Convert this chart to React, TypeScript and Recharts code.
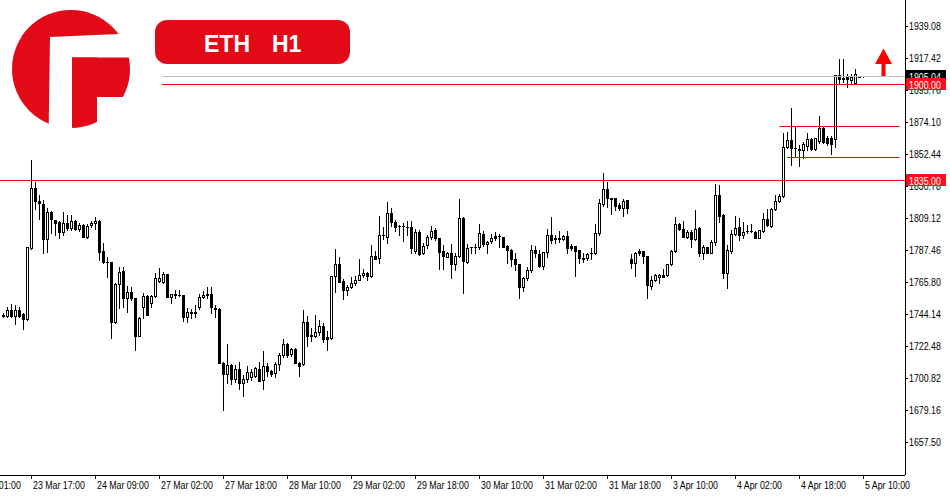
import React from 'react';
import { ComposedChart, Bar, XAxis, YAxis, ReferenceLine } from 'recharts';

// [open, high, low, close] for each H1 bar
const CANDLES: [number, number, number, number][] = [
  [1743.2, 1744.5, 1742.0, 1743.0], [1743.0, 1749.1, 1742.3, 1746.9], [1746.9, 1750.9, 1742.3, 1743.0],
  [1743.0, 1750.2, 1737.1, 1746.9], [1746.9, 1749.1, 1742.3, 1743.0], [1743.9, 1744.6, 1733.8, 1740.5],
  [1740.5, 1789.7, 1740.1, 1789.3], [1788.6, 1848.4, 1788.4, 1829.2], [1829.2, 1833.3, 1815.0, 1820.9],
  [1820.6, 1824.7, 1808.2, 1819.0], [1818.6, 1821.3, 1785.2, 1794.7], [1794.7, 1815.7, 1786.3, 1813.4],
  [1813.4, 1813.6, 1798.7, 1808.2], [1807.8, 1808.0, 1797.6, 1806.0], [1806.6, 1806.8, 1795.4, 1799.9],
  [1799.9, 1813.4, 1797.6, 1806.0], [1806.0, 1811.2, 1801.0, 1802.1], [1802.1, 1811.2, 1801.0, 1807.1],
  [1807.1, 1808.0, 1801.0, 1801.5], [1801.5, 1805.5, 1800.5, 1804.4], [1804.4, 1805.0, 1796.0, 1796.5],
  [1796.5, 1805.0, 1795.8, 1803.7], [1804.4, 1807.1, 1802.8, 1805.5], [1805.5, 1810.0, 1801.5, 1807.1],
  [1807.1, 1808.0, 1780.7, 1786.3], [1786.8, 1792.0, 1778.4, 1779.1], [1779.6, 1782.5, 1769.4, 1779.1],
  [1779.1, 1779.3, 1727.7, 1738.9], [1738.9, 1765.0, 1738.0, 1764.2], [1764.2, 1776.2, 1748.0, 1772.4],
  [1773.3, 1776.2, 1749.1, 1755.2], [1755.2, 1763.1, 1745.7, 1758.8], [1758.8, 1762.6, 1753.6, 1754.8],
  [1754.8, 1755.0, 1719.8, 1729.5], [1729.5, 1742.0, 1729.0, 1741.7], [1748.6, 1758.1, 1741.2, 1756.6],
  [1756.6, 1757.0, 1743.3, 1743.5], [1751.8, 1756.8, 1749.1, 1756.6], [1756.6, 1771.7, 1755.9, 1768.7],
  [1766.5, 1775.1, 1765.6, 1768.7], [1766.0, 1772.8, 1764.9, 1771.2], [1771.2, 1771.3, 1755.4, 1755.9],
  [1755.4, 1757.9, 1751.4, 1757.5], [1757.5, 1760.4, 1755.2, 1757.3], [1757.0, 1760.4, 1756.6, 1757.1],
  [1757.0, 1757.2, 1739.6, 1742.3], [1742.3, 1748.0, 1738.9, 1745.3], [1744.6, 1747.3, 1741.2, 1745.7],
  [1744.6, 1750.2, 1742.3, 1745.7], [1748.6, 1757.7, 1747.3, 1755.9], [1755.4, 1759.9, 1754.7, 1757.0],
  [1757.5, 1762.6, 1754.8, 1757.3], [1757.7, 1762.6, 1744.6, 1748.6], [1748.0, 1750.2, 1742.3, 1747.3],
  [1747.5, 1748.0, 1711.0, 1711.2], [1711.2, 1711.5, 1679.2, 1703.3], [1703.3, 1723.8, 1697.2, 1709.6],
  [1709.6, 1710.0, 1696.8, 1699.9], [1699.9, 1709.6, 1698.4, 1706.7], [1706.7, 1711.4, 1693.4, 1697.2],
  [1697.2, 1702.9, 1688.9, 1699.9], [1699.9, 1709.2, 1698.4, 1704.7], [1701.7, 1706.9, 1699.5, 1704.7],
  [1702.2, 1708.5, 1701.8, 1707.4], [1706.9, 1711.9, 1698.8, 1699.0], [1699.5, 1719.1, 1693.4, 1709.0],
  [1709.0, 1711.2, 1702.4, 1705.6], [1705.6, 1706.3, 1702.2, 1703.3], [1704.0, 1711.9, 1701.7, 1710.1],
  [1710.1, 1717.5, 1706.3, 1716.4], [1716.4, 1727.2, 1715.3, 1723.8], [1723.8, 1724.3, 1715.3, 1716.4],
  [1716.8, 1721.4, 1715.7, 1720.5], [1720.5, 1721.0, 1710.8, 1711.2], [1711.2, 1711.9, 1702.4, 1709.2],
  [1710.1, 1746.9, 1709.6, 1738.5], [1738.5, 1743.0, 1722.7, 1729.5], [1729.9, 1734.5, 1725.9, 1729.5],
  [1729.3, 1743.5, 1728.4, 1731.7], [1732.2, 1740.1, 1729.9, 1736.0], [1736.0, 1738.3, 1725.0, 1727.2],
  [1728.8, 1732.9, 1719.8, 1727.2], [1728.1, 1770.0, 1727.2, 1769.9], [1769.9, 1788.1, 1759.3, 1777.8],
  [1777.8, 1783.0, 1765.6, 1766.0], [1766.5, 1767.6, 1754.3, 1760.4], [1760.4, 1763.8, 1757.0, 1762.2],
  [1762.6, 1769.4, 1761.5, 1764.9], [1764.9, 1769.9, 1763.8, 1767.2], [1767.2, 1781.4, 1767.0, 1770.6],
  [1770.6, 1774.4, 1769.4, 1771.7], [1771.7, 1772.4, 1767.2, 1770.1], [1770.1, 1790.9, 1769.4, 1783.6],
  [1783.6, 1787.0, 1781.2, 1781.4], [1782.3, 1810.5, 1778.9, 1797.6], [1797.6, 1803.3, 1794.7, 1797.8],
  [1796.5, 1819.7, 1792.0, 1812.3], [1812.3, 1815.7, 1803.9, 1806.2], [1806.2, 1807.8, 1800.6, 1803.3],
  [1804.0, 1804.5, 1797.6, 1803.8], [1803.8, 1805.5, 1793.6, 1803.9], [1803.3, 1807.3, 1797.6, 1803.2],
  [1802.8, 1807.3, 1785.2, 1789.0], [1786.8, 1801.5, 1785.7, 1799.4], [1799.4, 1801.0, 1784.1, 1784.8],
  [1785.2, 1792.0, 1784.7, 1790.4], [1790.9, 1797.6, 1788.6, 1796.0], [1796.0, 1803.9, 1794.7, 1800.6],
  [1801.0, 1802.1, 1794.2, 1795.4], [1795.4, 1795.6, 1774.6, 1786.3], [1786.8, 1790.9, 1774.6, 1783.4],
  [1783.0, 1786.3, 1782.5, 1785.2], [1785.2, 1791.5, 1768.7, 1777.8], [1777.8, 1785.2, 1773.9, 1783.4],
  [1783.4, 1822.0, 1782.5, 1808.9], [1808.9, 1809.5, 1758.6, 1780.2], [1779.6, 1791.5, 1778.4, 1788.6],
  [1789.2, 1789.7, 1785.2, 1789.4], [1789.4, 1791.5, 1785.2, 1789.2], [1789.2, 1805.0, 1787.9, 1798.7],
  [1798.3, 1800.5, 1790.2, 1791.3], [1791.5, 1793.8, 1785.7, 1793.1], [1793.3, 1798.1, 1792.4, 1795.4],
  [1796.9, 1799.4, 1794.2, 1795.4], [1797.1, 1798.3, 1789.7, 1797.0], [1796.5, 1796.6, 1789.2, 1789.7],
  [1790.2, 1790.9, 1778.9, 1787.5], [1787.5, 1788.0, 1776.9, 1781.4], [1781.4, 1785.2, 1773.9, 1777.8],
  [1777.8, 1778.0, 1755.2, 1762.6], [1762.2, 1769.4, 1759.9, 1768.7], [1768.7, 1776.2, 1767.2, 1773.9],
  [1773.9, 1790.9, 1772.8, 1787.5], [1787.5, 1790.2, 1782.9, 1785.2], [1784.7, 1787.5, 1775.7, 1776.6],
  [1776.9, 1786.4, 1774.4, 1785.9], [1785.9, 1801.4, 1782.5, 1797.6], [1797.6, 1809.6, 1792.4, 1794.2],
  [1795.4, 1797.6, 1792.0, 1795.2], [1794.9, 1800.5, 1793.1, 1795.8], [1794.9, 1797.6, 1794.2, 1796.9],
  [1796.9, 1800.5, 1785.2, 1789.0], [1790.2, 1791.5, 1787.5, 1788.6], [1790.2, 1790.4, 1769.9, 1786.8],
  [1787.5, 1787.7, 1778.9, 1781.8], [1781.8, 1785.2, 1779.6, 1781.6], [1781.8, 1785.2, 1780.7, 1784.7],
  [1785.2, 1788.6, 1781.1, 1785.4], [1785.2, 1805.0, 1784.7, 1798.7], [1799.2, 1822.0, 1797.6, 1819.0],
  [1818.4, 1839.4, 1817.3, 1828.5], [1828.5, 1833.7, 1816.8, 1822.4], [1822.4, 1822.6, 1811.6, 1822.0],
  [1822.4, 1822.6, 1814.5, 1817.5], [1817.9, 1819.0, 1814.5, 1815.7], [1815.7, 1821.8, 1810.7, 1820.9],
  [1821.3, 1821.5, 1812.3, 1815.7], [1781.1, 1784.7, 1775.5, 1778.9], [1778.9, 1786.3, 1769.9, 1785.7],
  [1786.8, 1788.1, 1784.1, 1785.7], [1786.8, 1787.0, 1778.9, 1783.4], [1783.4, 1783.5, 1755.2, 1763.8],
  [1763.3, 1769.9, 1761.1, 1767.2], [1767.2, 1771.2, 1766.5, 1770.5], [1769.4, 1771.2, 1764.9, 1770.5],
  [1770.5, 1774.4, 1768.9, 1769.4], [1770.5, 1778.0, 1769.9, 1777.8], [1777.8, 1787.5, 1777.3, 1786.8],
  [1786.8, 1809.6, 1786.3, 1804.8], [1804.8, 1806.0, 1801.0, 1801.7], [1801.7, 1807.1, 1796.3, 1796.5],
  [1796.5, 1801.0, 1795.4, 1799.4], [1799.9, 1801.0, 1789.3, 1794.9], [1794.9, 1814.5, 1794.2, 1801.4],
  [1802.6, 1803.3, 1783.4, 1785.7], [1785.7, 1790.9, 1781.1, 1789.3], [1789.3, 1789.5, 1785.2, 1785.7],
  [1785.7, 1794.2, 1785.2, 1792.6], [1793.1, 1832.1, 1790.8, 1824.7], [1824.7, 1831.5, 1806.6, 1810.7],
  [1811.1, 1811.8, 1768.7, 1772.1], [1772.1, 1790.9, 1761.5, 1787.5], [1787.0, 1801.0, 1785.7, 1798.3],
  [1798.1, 1810.5, 1797.6, 1802.1], [1802.8, 1808.9, 1794.2, 1797.6], [1797.6, 1806.6, 1795.8, 1799.4],
  [1800.2, 1804.4, 1798.7, 1800.4], [1800.3, 1804.8, 1799.9, 1800.4], [1799.9, 1800.2, 1795.4, 1795.8],
  [1795.8, 1801.2, 1795.4, 1801.0], [1800.5, 1812.7, 1799.4, 1808.2], [1808.2, 1815.0, 1803.9, 1804.4],
  [1804.0, 1816.1, 1803.3, 1815.0], [1815.0, 1824.7, 1814.5, 1820.9], [1820.9, 1825.1, 1820.2, 1824.0],
  [1824.0, 1866.4, 1823.5, 1857.0], [1857.0, 1867.6, 1856.8, 1862.0], [1862.0, 1883.3, 1845.0, 1856.7],
  [1856.7, 1870.5, 1850.6, 1856.2], [1855.8, 1858.5, 1844.6, 1855.2], [1855.2, 1860.8, 1849.5, 1859.0],
  [1857.9, 1866.4, 1855.2, 1862.4], [1862.4, 1863.0, 1855.2, 1855.6], [1855.6, 1863.3, 1855.2, 1863.1],
  [1861.3, 1878.2, 1860.1, 1869.8], [1869.8, 1870.9, 1859.7, 1860.8], [1863.5, 1864.6, 1858.5, 1859.7],
  [1863.1, 1864.6, 1852.2, 1859.2], [1862.4, 1906.0, 1857.0, 1905.9], [1905.9, 1916.5, 1900.3, 1903.0],
  [1903.7, 1916.5, 1901.4, 1903.0], [1904.3, 1906.6, 1897.6, 1903.0], [1902.5, 1906.4, 1900.3, 1904.8],
  [1900.7, 1909.8, 1899.8, 1906.4], [1904.8, 1905.3, 1904.3, 1904.9], [1904.9, 1905.4, 1904.6, 1905.0],
];

// time-axis ticks (bar index -> label), every 16 bars
const TICK_INDEX = [-9, 7, 23, 39, 55, 71, 87, 103, 119, 135, 151, 167, 183, 199, 215];
const TICK_LABELS = [
  '23 Mar 01:00', '23 Mar 17:00', '24 Mar 09:00', '27 Mar 02:00', '27 Mar 18:00', '28 Mar 10:00',
  '29 Mar 02:00', '29 Mar 18:00', '30 Mar 10:00', '31 Mar 02:00', '31 Mar 18:00', '3 Apr 10:00',
  '4 Apr 02:00', '4 Apr 18:00', '5 Apr 10:00',
];

const PRICE_TICKS = [
  1657.5, 1679.16, 1700.82, 1722.48, 1744.14, 1765.8, 1787.46, 1809.12, 1830.78, 1852.44,
  1874.1, 1895.76, 1917.42, 1939.08,
];

const SUPPORT = 1835.0;
const RESISTANCE = 1900.0;
const CURRENT = 1905.04;
const BOX_TOP = 1871.2;
const BOX_BOTTOM = 1850.2;
const LINE_START = 39.6;

const X_DOMAIN: [number, number] = [-10.875, 225.375];
const Y_DOMAIN: [number, number] = [1635.17, 1956.68];
const PLOT_H = 475;
const PX_PER_UNIT = PLOT_H / (Y_DOMAIN[1] - Y_DOMAIN[0]);

const data = CANDLES.map(([o, h, l, c], i) => ({ i, o, h, l, c, range: [l, h] }));

const FONT = "'Liberation Sans', Arial, sans-serif";
const SQUEEZE = 0.8;
const RED = '#ff0000';
const TAG_RED = '#f8101a';
const BRAND = '#e20a17';
const TAG_LEVELS = [SUPPORT, RESISTANCE];
const TAG_HALF = 6;

const Candle = (props: any) => {
  const { x, y, width, height, payload } = props;
  if (!payload || height == null) return null;
  const { o, h, l, c } = payload;
  const cx = Math.floor(x + width / 2) + 0.5;
  const k = height / (h - l);
  const yOf = (v: number) => y + (h - v) * k;
  const top = Math.round(yOf(Math.max(o, c)));
  const bot = Math.round(yOf(Math.min(o, c)));
  const bull = c >= o;
  return (
    <g>
      <line x1={cx} x2={cx} y1={Math.round(yOf(h))} y2={Math.round(yOf(l)) + 1} stroke="#000" strokeWidth={1} />
      {bot - top >= 1 ? (
        <rect x={cx - 1} y={top + 0.5} width={2} height={bot - top} fill={bull ? '#fff' : '#000'} stroke="#000" strokeWidth={1} />
      ) : (
        <line x1={cx - 1.5} x2={cx + 1.5} y1={top + 0.5} y2={top + 0.5} stroke="#000" strokeWidth={1} />
      )}
    </g>
  );
};

const Squeezed = ({ x, y, children, fill = '#000' }: any) => (
  <text
    transform={`translate(${x} ${y}) scale(${SQUEEZE} 1)`}
    x={0}
    y={0}
    fontSize={11}
    fontFamily={FONT}
    fill={fill}
    textAnchor="start"
  >
    {children}
  </text>
);

const XTick = (props: any) => {
  const { x, payload } = props;
  const idx = TICK_INDEX.indexOf(payload.value);
  return <Squeezed x={x + 1.5} y={489}>{TICK_LABELS[idx]}</Squeezed>;
};

let clipSeq = 0;
const YTick = (props: any) => {
  const { x, y, payload } = props;
  const v: number = payload.value;
  const covering = TAG_LEVELS.find((p) => p > v && p - v < 6);
  if (covering !== undefined) {
    // the price tag sits over this tick label; only the part below the tag stays visible
    const tagBottom = Math.round(y - (covering - v) * PX_PER_UNIT) + TAG_HALF;
    const id = `ytclip${clipSeq++}`;
    return (
      <g>
        <defs>
          <clipPath id={id}>
            <rect x={x - 2} y={tagBottom} width={60} height={20} />
          </clipPath>
        </defs>
        <g clipPath={`url(#${id})`}>
          <Squeezed x={x} y={y + 4}>{v.toFixed(2)}</Squeezed>
        </g>
      </g>
    );
  }
  return <Squeezed x={x} y={y + 4}>{v.toFixed(2)}</Squeezed>;
};

const tagLine = (text: string, bg: string, color: string) => (p: any) => {
  const xr = Math.max(p.x1, p.x2);
  const yy = Math.round(p.y1);
  return (
    <g>
      <line x1={p.x1} x2={p.x2} y1={yy + 0.5} y2={yy + 0.5} stroke={color} strokeWidth={1} />
      <rect x={xr + 1} y={yy - TAG_HALF} width={40} height={TAG_HALF * 2} fill={bg} />
      <Squeezed x={xr + 4} y={yy + 4.5} fill="#fff">{text}</Squeezed>
    </g>
  );
};

const plainLine = (color: string) => (p: any) => {
  const yy = Math.round(p.y1);
  return <line x1={p.x1} x2={p.x2} y1={yy + 0.5} y2={yy + 0.5} stroke={color} strokeWidth={1} />;
};

const Logo = () => (
  <svg width={950} height={500} style={{ position: 'absolute', left: 0, top: 0, pointerEvents: 'none' }}>
    <defs>
      <clipPath id="logoClip">
        <circle cx={71} cy={69} r={59} />
      </clipPath>
    </defs>
    <g clipPath="url(#logoClip)" fill={BRAND}>
      <polygon points="0,0 50,0 50,36 48.5,140 0,140" />
      <polygon points="0,0 140,0 140,33 50,37 0,37" />
      <rect x={72} y={57.5} width={70} height={39.5} />
      <rect x={72} y={57.5} width={25} height={85} />
    </g>
    <rect x={155} y={20} width={195} height={44} rx={12} ry={12} fill={BRAND} />
    <text x={204} y={52} fontSize={23} fontWeight="bold" fontFamily={FONT} fill="#fff">ETH</text>
    <text x={272} y={52} fontSize={23} fontWeight="bold" fontFamily={FONT} fill="#fff">H1</text>
    <polygon points="875,64 883.5,48.5 892,64" fill={RED} />
    <rect x={881.5} y={63} width={4} height={13} fill={RED} />
  </svg>
);

export default function App() {
  return (
    <div style={{ position: 'absolute', left: 0, top: 0, width: 950, height: 500, overflow: 'hidden', background: '#fff' }}>
      <style>{'.recharts-cartesian-axis-line, .recharts-cartesian-axis-tick-line { shape-rendering: crispEdges; }'}</style>
      <div style={{ position: 'absolute', left: -40, top: 0 }}>
        <ComposedChart width={990} height={500} data={data} margin={{ top: 0, right: 0, bottom: 0, left: 0 }}>
          <XAxis
            type="number"
            dataKey="i"
            domain={X_DOMAIN}
            allowDataOverflow
            ticks={TICK_INDEX}
            interval={0}
            height={25}
            tickSize={4}
            tickMargin={2}
            axisLine={{ stroke: '#000' }}
            tickLine={{ stroke: '#000' }}
            tick={<XTick />}
          />
          <YAxis
            type="number"
            orientation="right"
            domain={Y_DOMAIN}
            allowDataOverflow
            ticks={PRICE_TICKS}
            interval={0}
            width={45}
            tickSize={3}
            tickMargin={1}
            axisLine={{ stroke: '#000' }}
            tickLine={{ stroke: '#000' }}
            tick={<YTick />}
          />
          <Bar dataKey="range" barSize={3} shape={<Candle />} isAnimationActive={false} />
          <ReferenceLine y={SUPPORT} shape={tagLine('1835.00', TAG_RED, RED)} />
          <ReferenceLine
            segment={[{ x: LINE_START, y: CURRENT }, { x: X_DOMAIN[1], y: CURRENT }]}
            shape={tagLine('1905.04', '#000', '#c0c0c0')}
          />
          <ReferenceLine
            segment={[{ x: LINE_START, y: RESISTANCE }, { x: X_DOMAIN[1], y: RESISTANCE }]}
            shape={tagLine('1900.00', TAG_RED, RED)}
          />
          <ReferenceLine segment={[{ x: 193.95, y: BOX_TOP }, { x: 223.95, y: BOX_TOP }]} shape={plainLine(RED)} />
          <ReferenceLine segment={[{ x: 195.95, y: BOX_BOTTOM }, { x: 223.95, y: BOX_BOTTOM }]} shape={plainLine(RED)} />
        </ComposedChart>
      </div>
      <Logo />
    </div>
  );
}
